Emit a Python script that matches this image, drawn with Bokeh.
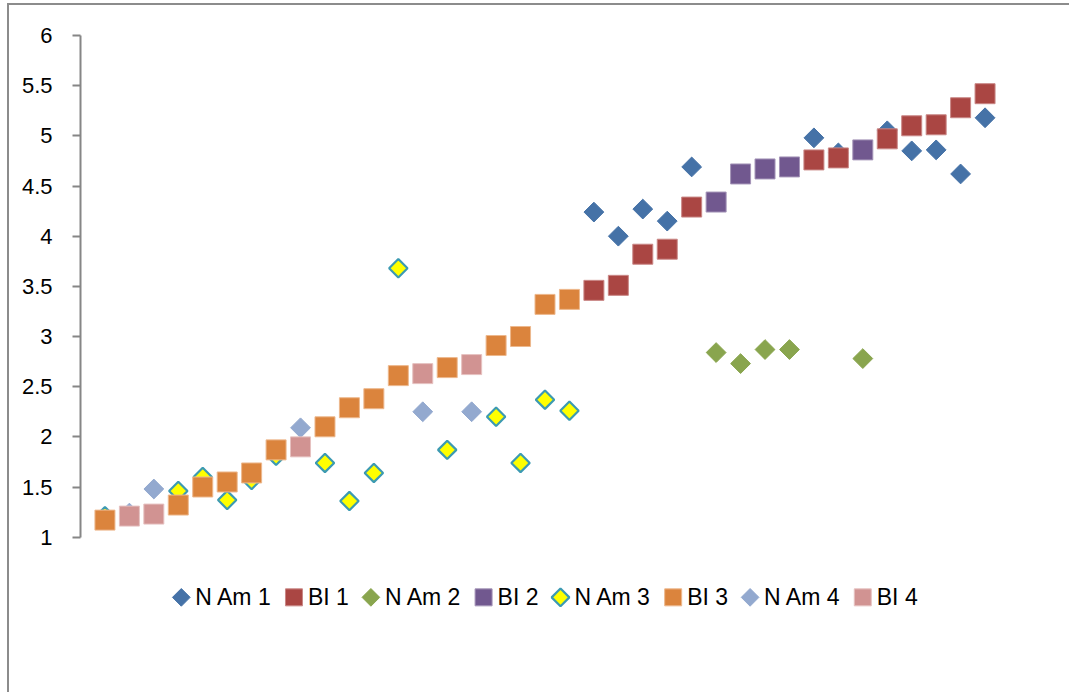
from bokeh.plotting import figure
from bokeh.models import FixedTicker, CustomJSTickFormatter, Range1d
from bokeh.core.properties import value
from bokeh.embed import file_html
from bokeh.resources import INLINE
import numpy as np

# ---- data (category index 1..37 along x) ----
nam1_x = [21, 22, 23, 24, 25, 30, 31, 33, 34, 35, 36, 37]
nam1_y = [4.24, 4.00, 4.27, 4.15, 4.69, 4.98, 4.83, 5.05, 4.85, 4.86, 4.62, 5.18]
bi1_x = [21, 22, 23, 24, 25, 30, 31, 33, 34, 35, 36, 37]
bi1_y = [3.46, 3.51, 3.82, 3.87, 4.29, 4.76, 4.78, 4.97, 5.10, 5.11, 5.28, 5.42]
nam2_x = [26, 27, 28, 29, 32]
nam2_y = [2.84, 2.73, 2.87, 2.87, 2.78]
bi2_x = [26, 27, 28, 29, 32]
bi2_y = [4.34, 4.62, 4.67, 4.69, 4.86]
nam3_x = [1, 4, 5, 6, 7, 8, 10, 11, 12, 13, 15, 17, 18, 19, 20]
nam3_y = [1.21, 1.46, 1.60, 1.37, 1.57, 1.81, 1.74, 1.36, 1.64, 3.68, 1.87, 2.20, 1.74, 2.37, 2.26]
bi3_x = [1, 4, 5, 6, 7, 8, 10, 11, 12, 13, 15, 17, 18, 19, 20]
bi3_y = [1.17, 1.32, 1.50, 1.55, 1.64, 1.87, 2.10, 2.29, 2.38, 2.61, 2.69, 2.91, 3.00, 3.32, 3.37]
nam4_x = [2, 3, 9, 14, 16]
nam4_y = [1.24, 1.48, 2.09, 2.25, 2.25]
bi4_x = [2, 3, 9, 14, 16]
bi4_y = [1.21, 1.23, 1.90, 2.63, 2.72]

series_names = ["N Am 1", "BI 1", "N Am 2", "BI 2", "N Am 3", "BI 3", "N Am 4", "BI 4"]
y_ticks = [1, 1.5, 2, 2.5, 3, 3.5, 4, 4.5, 5, 5.5, 6]

FONT = "Liberation Sans"

# ---- styles ----
styles = {
    "N Am 1": dict(kind="diamond", fill="#4572A7", line="#4572A7", lw=1),
    "BI 1":   dict(kind="square", fill="#AA4643", line="#C98786", lw=1),
    "N Am 2": dict(kind="diamond", fill="#89A54E", line="#89A54E", lw=1),
    "BI 2":   dict(kind="square", fill="#71588F", line="#A595B8", lw=1),
    "N Am 3": dict(kind="diamond", fill="#FFFF00", line="#3C9AB2", lw=2.2),
    "BI 3":   dict(kind="square", fill="#DB843D", line="#EDB88D", lw=1),
    "N Am 4": dict(kind="diamond", fill="#93A9CF", line="#93A9CF", lw=1),
    "BI 4":   dict(kind="square", fill="#D19392", line="#E6C2C1", lw=1),
}
data = {
    "N Am 1": (nam1_x, nam1_y), "BI 1": (bi1_x, bi1_y),
    "N Am 2": (nam2_x, nam2_y), "BI 2": (bi2_x, bi2_y),
    "N Am 3": (nam3_x, nam3_y), "BI 3": (bi3_x, bi3_y),
    "N Am 4": (nam4_x, nam4_y), "BI 4": (bi4_x, bi4_y),
}

FRAME_W = 929
X0, X1 = 0, 38
Y0, Y1 = 0, 6
p = figure(frame_width=FRAME_W, frame_height=602, output_backend="svg", toolbar_location=None,
           x_range=Range1d(X0, X1), y_range=Range1d(Y0, Y1),
           min_border_left=71, min_border_right=60, min_border_top=30, min_border_bottom=55)
p.styles = {"border-left": "2px solid #8c8c8c", "border-top": "2px solid #8c8c8c",
            "margin-left": "7px", "margin-top": "3px"}
p.outline_line_color = None
p.xgrid.visible = False
p.ygrid.visible = False
p.xaxis.visible = False
p.background_fill_color = "white"
p.border_fill_color = "white"

ya = p.yaxis[0]
ya.bounds = (1, 6)
ya.ticker = FixedTicker(ticks=y_ticks)
ya.formatter = CustomJSTickFormatter(code="return String(tick)")
ya.axis_line_color = "#868686"
ya.axis_line_width = 2
ya.major_tick_line_color = "#868686"
ya.major_tick_line_width = 2
ya.major_tick_out = 8
ya.major_tick_in = 0
ya.minor_tick_line_color = None
ya.major_label_text_font = FONT
ya.major_label_text_font_size = "22px"
ya.major_label_text_color = "#000000"
ya.major_label_standoff = 20

ROT = np.pi / 4
for name in series_names:
    st = styles[name]
    xs, ys = data[name]
    if st["kind"] == "diamond":
        p.scatter(xs, ys, marker="square", angle=ROT, size=14 if name != "N Am 3" else 13,
                  fill_color=st["fill"], line_color=st["line"], line_width=st["lw"])
    else:
        p.scatter(xs, ys, marker="square", size=20,
                  fill_color=st["fill"], line_color=st["line"], line_width=st["lw"])

# ---- legend row (below the value axis, drawn in the plot area) ----
px_per_unit = FRAME_W / (X1 - X0)
FS = 23
cw = {"N": .722, " ": .278, "A": .667, "m": .833, "B": .667, "I": .278,
      "1": .556, "2": .556, "3": .556, "4": .556}
def text_w(s):
    return sum(cw.get(c, .556) for c in s) * FS

GLYPH, GAP, SEP = 18, 5, 13
total = sum(GLYPH + GAP + text_w(n) for n in series_names) + SEP * (len(series_names) - 1)
cur = (X0 + X1) / 2 * px_per_unit - total / 2
LEG_Y = 0.40
for name in series_names:
    st = styles[name]
    gx = (cur + GLYPH / 2) / px_per_unit
    tx = (cur + GLYPH + GAP) / px_per_unit
    if st["kind"] == "diamond":
        p.scatter([gx], [LEG_Y], marker="square", angle=ROT, size=12.5,
                  fill_color=st["fill"], line_color=st["line"],
                  line_width=st["lw"] if name == "N Am 3" else 1)
    else:
        p.scatter([gx], [LEG_Y], marker="square", size=17,
                  fill_color=st["fill"], line_color=st["line"], line_width=1)
    p.text([tx], [LEG_Y], text=[name], text_font=value(FONT), text_font_size=f"{FS}px",
           text_baseline="middle", text_align="left", text_color="#000000")
    cur += GLYPH + GAP + text_w(name) + SEP

open("out.html", "w").write(file_html(p, INLINE))
